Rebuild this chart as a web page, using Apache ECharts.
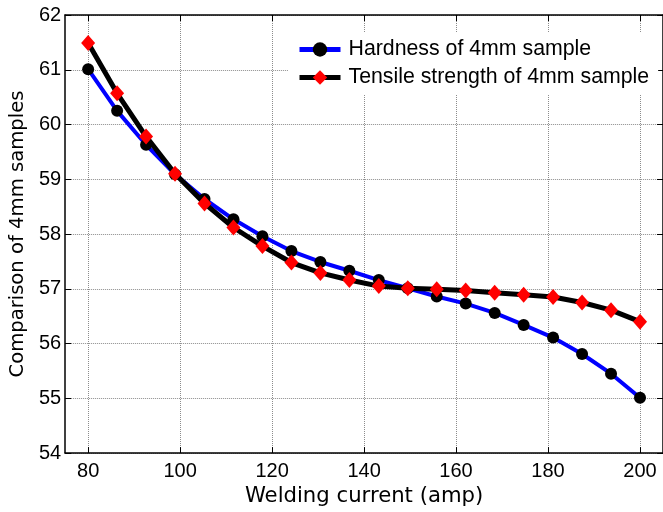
<!DOCTYPE html>
<html>
<head>
<meta charset="utf-8">
<script src="https://cdn.jsdelivr.net/npm/echarts@6/dist/echarts.min.js"></script>
<style>
html,body{margin:0;padding:0;background:#fff;}
#chart{width:663px;height:512px;}
</style>
</head>
<body>
<div id="chart"></div>
<script>
var currents = [80, 86.3, 92.6, 98.9, 105.3, 111.6, 117.9, 124.2, 130.5, 136.8, 143.2, 149.5, 155.8, 162.1, 168.4, 174.7, 181.1, 187.4, 193.7, 200];
var hardness = [61.01, 60.25, 59.63, 59.09, 58.64, 58.27, 57.96, 57.69, 57.49, 57.33, 57.16, 57.01, 56.86, 56.73, 56.56, 56.34, 56.11, 55.81, 55.45, 55.01];
var tensile = [61.49, 60.57, 59.78, 59.10, 58.56, 58.12, 57.78, 57.48, 57.29, 57.16, 57.05, 57.01, 56.99, 56.97, 56.93, 56.89, 56.85, 56.75, 56.61, 56.40];
var xTicks = [80, 100, 120, 140, 160, 180, 200];
var seriesNames = ['Hardness of 4mm sample', 'Tensile strength of 4mm sample'];

function pairs(xs, ys) { return xs.map(function (x, i) { return [x, ys[i]]; }); }

var chart = echarts.init(document.getElementById('chart'), null, {renderer: 'canvas'});
var tickFont = {fontFamily: 'Liberation Sans', fontSize: 20, color: '#000'};
var axisLine = {show: true, onZero: false, lineStyle: {color: '#000', width: 1.5}};
var gridLine = {show: true, lineStyle: {color: '#8c8c8c', width: 1, type: 'dotted'}};

chart.setOption({
  animation: false,
  backgroundColor: '#fff',
  grid: {left: 65, right: 0, top: 15, bottom: 54, containLabel: false},
  legend: {
    data: seriesNames,
    orient: 'vertical',
    left: 288, top: 33,
    padding: [6, 9, 6, 9],
    backgroundColor: '#fff',
    itemWidth: 41, itemHeight: 18, itemGap: 7,
    lineStyle: {width: 5},
    textStyle: {fontFamily: 'Liberation Sans', fontSize: 21.3, color: '#000', lineHeight: 19, padding: [0, 0, 0, 3]}
  },
  xAxis: [{
    type: 'value', min: 75, max: 205, position: 'bottom',
    name: 'Welding current (amp)', nameLocation: 'middle', nameGap: 26,
    nameTextStyle: {fontFamily: 'DejaVu Sans', fontSize: 21.2, color: '#000'},
    axisLine: axisLine,
    axisTick: {show: true, inside: true, length: 6, customValues: xTicks, lineStyle: {color: '#000'}},
    axisLabel: Object.assign({customValues: xTicks, margin: 8}, tickFont),
    splitLine: gridLine
  }, {
    type: 'value', min: 75, max: 205, position: 'top',
    axisLine: axisLine,
    axisTick: {show: true, inside: true, length: 6, customValues: xTicks, lineStyle: {color: '#000'}},
    axisLabel: {show: false},
    splitLine: {show: false}
  }],
  yAxis: [{
    type: 'value', min: 54, max: 62, interval: 1, position: 'left',
    name: 'Comparison of 4mm samples', nameLocation: 'middle', nameGap: 36,
    nameTextStyle: {fontFamily: 'DejaVu Sans', fontSize: 19.6, color: '#000', align: 'center'},
    axisLine: axisLine,
    axisTick: {show: true, inside: true, length: 6, lineStyle: {color: '#000'}},
    axisLabel: Object.assign({margin: 4}, tickFont),
    splitLine: gridLine
  }, {
    type: 'value', min: 54, max: 62, interval: 1, position: 'right',
    axisLine: axisLine,
    axisTick: {show: true, inside: true, length: 6, lineStyle: {color: '#000'}},
    axisLabel: {show: false},
    splitLine: {show: false}
  }],
  series: [{
    name: seriesNames[0], type: 'line', data: pairs(currents, hardness),
    lineStyle: {color: '#0000ff', width: 4},
    itemStyle: {color: '#000'},
    symbol: 'circle', symbolSize: 12,
    z: 2
  }, {
    name: seriesNames[1], type: 'line', data: pairs(currents, tensile),
    lineStyle: {color: '#000', width: 5},
    itemStyle: {color: '#ff0000'},
    symbol: 'diamond', symbolSize: [14, 16],
    z: 3
  }]
});
</script>
</body>
</html>
